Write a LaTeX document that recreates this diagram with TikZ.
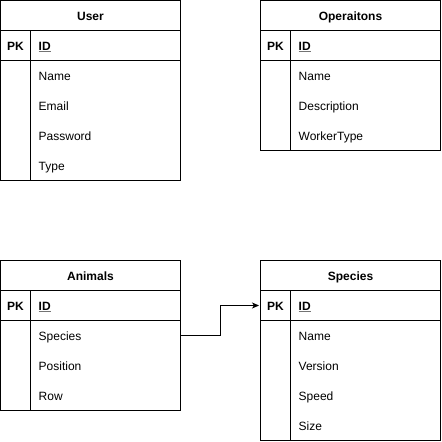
\documentclass[tikz,border=0pt]{standalone}
\usepackage{fontspec}
\setmainfont{Liberation Sans}
\usetikzlibrary{arrows.meta}
\begin{document}
\begin{tikzpicture}[x=1pt,y=-1pt,
  cell/.style={draw,line width=1pt,anchor=north west,inner sep=0pt,outer sep=0pt,
    minimum height=30pt,font=\fontsize{12}{14}\selectfont\bfseries,text height=10pt,text depth=0pt},
  colbox/.style={draw,line width=1pt,anchor=north west,inner sep=0pt,outer sep=0pt},
  fld/.style={anchor=base west,inner sep=0pt,outer sep=0pt,font=\fontsize{12}{14}\selectfont,
    text height=10pt,text depth=0pt},
  keyfld/.style={fld,font=\fontsize{12}{14}\selectfont\bfseries},
  uline/.style={line width=1pt,black!55},
  link/.style={line width=1pt,-{Stealth[length=7pt,width=6pt,inset=2pt]}}]
\useasboundingbox (0,0) rectangle (442,442);

% ---------- User ----------
\node[cell,minimum width=180pt] (uH) at (0.5,0.5) {User};
\node[cell,minimum width=30pt] (uPK) at (0.5,30.5) {PK};
\node[cell,minimum width=150pt] (uIDc) at (30.5,30.5) {};
\node[colbox,minimum width=30pt,minimum height=120pt] (uL) at (0.5,60.5) {};
\node[colbox,minimum width=150pt,minimum height=120pt] (uBody) at (30.5,60.5) {};
\node[keyfld] (uID) at (38.7,50) {ID};
\draw[uline] ([yshift=-1.6pt]uID.base west) -- ([yshift=-1.6pt]uID.base east);
\node[fld] (uName) at (38.7,80) {Name};
\node[fld] (uEmail) at (38.7,110) {Email};
\node[fld] (uPass) at (38.7,140) {Password};
\node[fld] (uType) at (38.7,170) {Type};

% ---------- Operaitons ----------
\node[cell,minimum width=180pt] (oH) at (260.5,0.5) {Operaitons};
\node[cell,minimum width=30pt] (oPK) at (260.5,30.5) {PK};
\node[cell,minimum width=150pt] (oIDc) at (290.5,30.5) {};
\node[colbox,minimum width=30pt,minimum height=90pt] (oL) at (260.5,60.5) {};
\node[colbox,minimum width=150pt,minimum height=90pt] (oBody) at (290.5,60.5) {};
\node[keyfld] (oID) at (298.7,50) {ID};
\draw[uline] ([yshift=-1.6pt]oID.base west) -- ([yshift=-1.6pt]oID.base east);
\node[fld] (oName) at (298.7,80) {Name};
\node[fld] (oDesc) at (298.7,110) {Description};
\node[fld] (oWork) at (298.7,140) {WorkerType};

% ---------- Animals ----------
\node[cell,minimum width=180pt] (aH) at (0.5,260.5) {Animals};
\node[cell,minimum width=30pt] (aPK) at (0.5,290.5) {PK};
\node[cell,minimum width=150pt] (aIDc) at (30.5,290.5) {};
\node[colbox,minimum width=30pt,minimum height=90pt] (aL) at (0.5,320.5) {};
\node[colbox,minimum width=150pt,minimum height=90pt] (aBody) at (30.5,320.5) {};
\node[keyfld] (aID) at (38.7,310) {ID};
\draw[uline] ([yshift=-1.6pt]aID.base west) -- ([yshift=-1.6pt]aID.base east);
\node[fld] (aSpecies) at (38.7,340) {Species};
\node[fld] (aPos) at (38.7,370) {Position};
\node[fld] (aRow) at (38.7,400) {Row};

% ---------- Species ----------
\node[cell,minimum width=180pt] (sH) at (260.5,260.5) {Species};
\node[cell,minimum width=30pt] (sPK) at (260.5,290.5) {PK};
\node[cell,minimum width=150pt] (sIDc) at (290.5,290.5) {};
\node[colbox,minimum width=30pt,minimum height=120pt] (sL) at (260.5,320.5) {};
\node[colbox,minimum width=150pt,minimum height=120pt] (sBody) at (290.5,320.5) {};
\node[keyfld] (sID) at (298.7,310) {ID};
\draw[uline] ([yshift=-1.6pt]sID.base west) -- ([yshift=-1.6pt]sID.base east);
\node[fld] (sName) at (298.7,340) {Name};
\node[fld] (sVer) at (298.7,370) {Version};
\node[fld] (sSpeed) at (298.7,400) {Speed};
\node[fld] (sSize) at (298.7,430) {Size};

% ---------- connector ----------
\draw[link] (aSpecies.center -| aBody.east) -| ([xshift=-40pt]sPK.west) -- ([xshift=-1.5pt]sPK.west);
\end{tikzpicture}
\end{document}
